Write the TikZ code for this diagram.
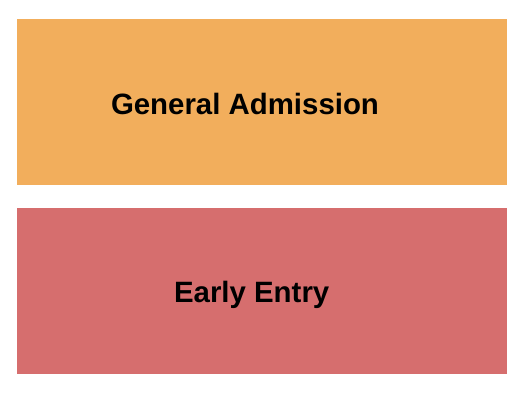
\documentclass[tikz,border=0pt]{standalone}
\usepackage{fontspec}
\setmainfont{Liberation Sans}
\usetikzlibrary{positioning}
\definecolor{gaorange}{RGB}{242,174,92}
\definecolor{eered}{RGB}{214,110,110}
\tikzset{
    plan/.style={
        x=1pt,y=1pt,
        section/.append style={draw=none,rectangle,inner sep=0pt,minimum width=490pt,minimum height=166pt},
        seclabel/.append style={inner sep=0pt,anchor=base,font=\fontsize{29.4}{30}\selectfont\bfseries}
    }
}
\begin{document}
\begin{tikzpicture}[plan]
    \useasboundingbox (0,0) rectangle (525,401);
    \node[section,fill=gaorange] (ga) at (262,299) {};
    \node[section,fill=eered] (ee) at (262,109.5) {};
    \node[seclabel] (galabel) at (245,286.7) {General Admission};
    \node[seclabel] (eelabel) at (251.7,98.3) {Early Entry};
\end{tikzpicture}
\end{document}
